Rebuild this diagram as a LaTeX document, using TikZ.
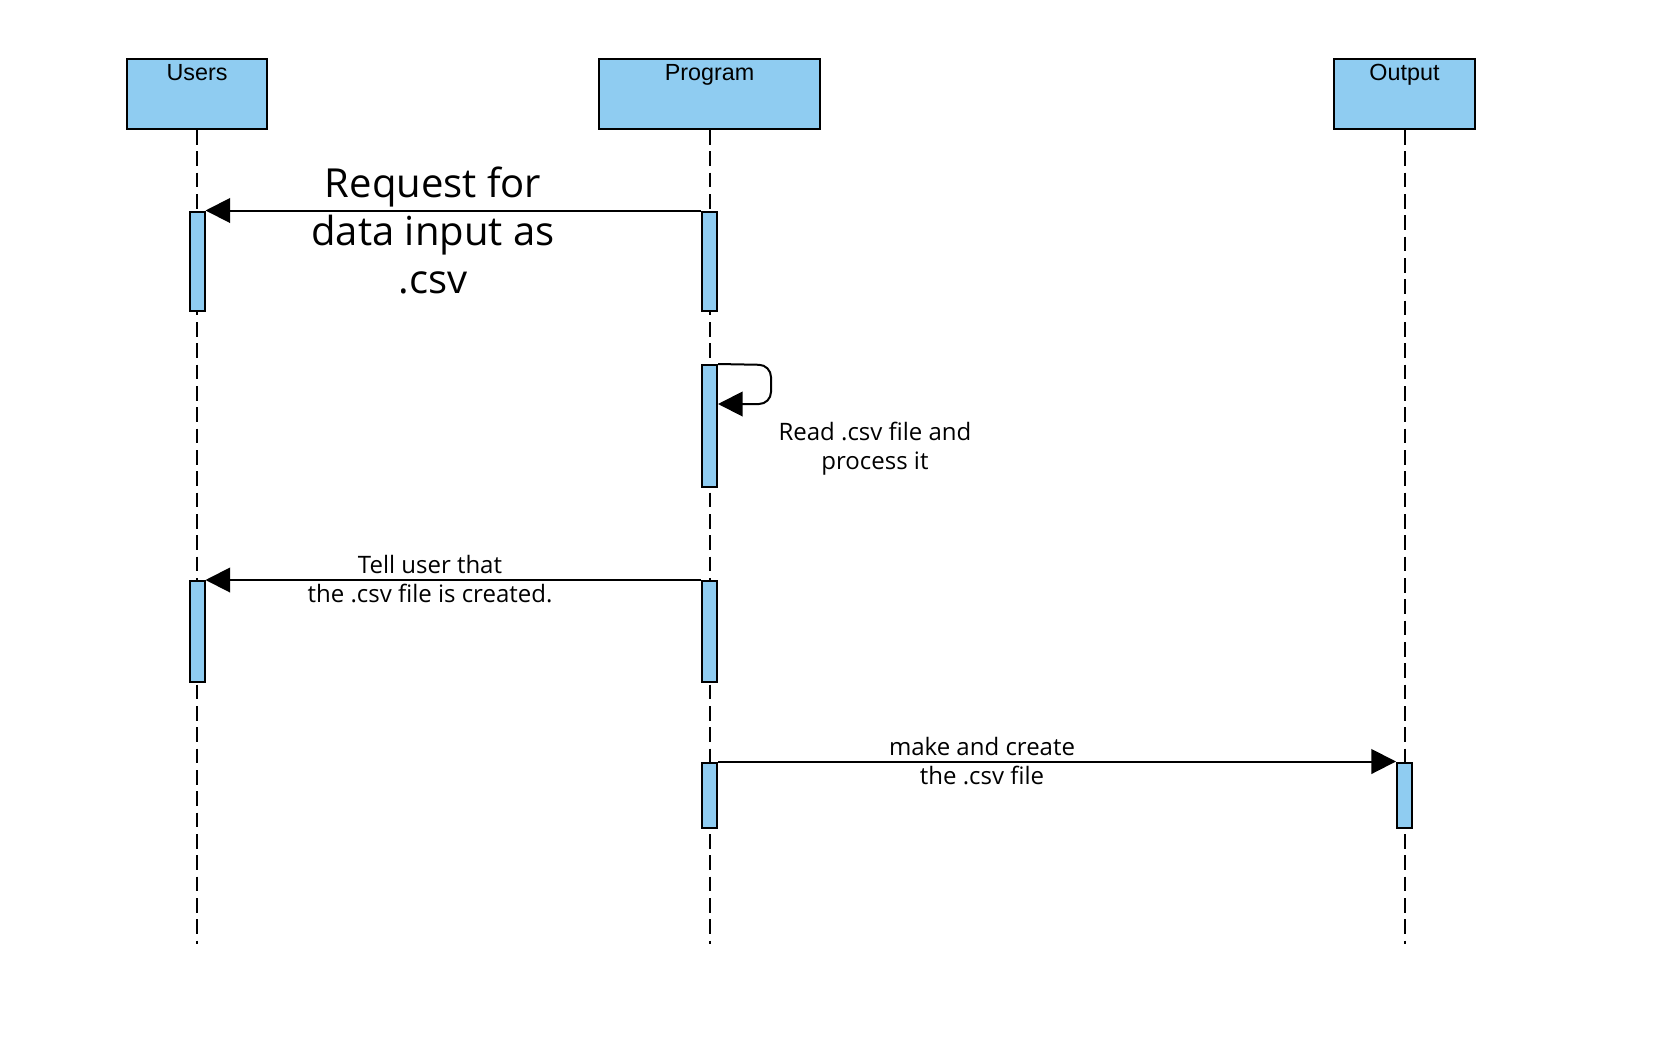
\documentclass[tikz,border=0pt]{standalone}
\usepackage{fontspec}
\setmainfont{Open Sans}
\newfontfamily\titlefont{Liberation Sans}
\usetikzlibrary{arrows.meta,fit}
\definecolor{barblue}{HTML}{8FCCF1}
\begin{document}
\begin{tikzpicture}[x=0.75pt,y=-0.75pt,
  headbox/.style={draw=black,fill=barblue,line width=1.5pt,inner sep=0pt},
  actbar/.style={draw=black,fill=barblue,line width=1.5pt,inner sep=0pt},
  life/.style={line width=1.5pt,dash pattern=on 11pt off 5pt},
  msg/.style={line width=1.5pt,-{Triangle[length=18.5pt,width=18.5pt]}},
  headtext/.style={font=\titlefont\fontsize{17.5}{21}\selectfont,anchor=base,inner sep=0pt},
  bigtext/.style={font=\fontsize{30}{35.8}\selectfont,align=center,inner sep=0pt},
  smalltext/.style={font=\fontsize{18}{21.8}\selectfont,align=center,inner sep=0pt}]
\useasboundingbox (0,0) rectangle (1676,1060);
% heads
\node[headbox,fit={(127,59) (267,129)}] (users) {};
\node[headbox,fit={(599,59) (820,129)}] (program) {};
\node[headbox,fit={(1334,59) (1475,129)}] (output) {};
\node[headtext] (usersT) at (197,80) {Users};
\node[headtext] (programT) at (709.5,80) {Program};
\node[headtext] (outputT) at (1404.5,80) {Output};
% lifelines
\coordinate (uend) at (197,944);
\coordinate (pend) at (709.5,944);
\coordinate (oend) at (1404.5,944);
\draw[life] (users.south) -- (uend);
\draw[life] (program.south) -- (pend);
\draw[life] (output.south) -- (oend);
% activation bars
\node[actbar,fit={(189.5,211.5) (204.5,311)}] (u1) {};
\node[actbar,fit={(702,211.5) (717,311)}] (p1) {};
\node[actbar,fit={(702,365) (717,487)}] (p2) {};
\node[actbar,fit={(189.5,581) (204.5,682)}] (u2) {};
\node[actbar,fit={(702,581) (717,682)}] (p3) {};
\node[actbar,fit={(702,762.5) (717,828)}] (p4) {};
\node[actbar,fit={(1397,762.5) (1412,828)}] (o1) {};
% messages
\draw[msg] (p1.north west) -- (u1.north east);
\coordinate (loopA) at (771,365);
\coordinate (loopB) at (771,404);
\draw[msg,rounded corners=9pt] (p2.north east) -- (loopA) -- (loopB) -- (p2.east |- loopB);
\draw[msg] (p3.north west) -- (u2.north east);
\draw[msg] (p4.north east) -- (o1.north west);
% labels
\node[bigtext] (l1) at (433,230.5) {Request for\\data input as\\.csv};
\node[smalltext] (l2) at (875,449) {Read .csv file and\\process it};
\node[smalltext] (l3) at (430,579.5) {Tell user that\\the .csv file is created.};
\node[smalltext] (l4) at (982,761.5) {make and create\\the .csv file};
\end{tikzpicture}
\end{document}
